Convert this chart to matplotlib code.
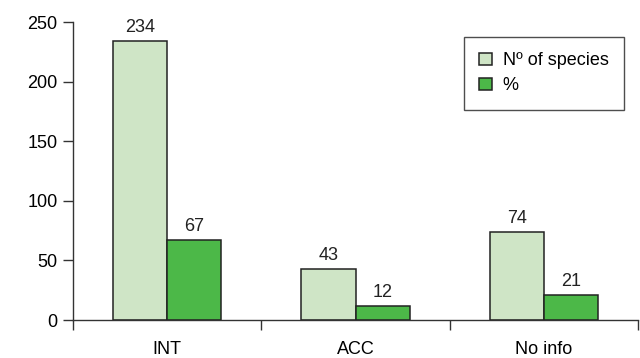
import numpy as np
import matplotlib.pyplot as plt

plt.rcParams['font.family'] = ['Liberation Sans', 'DejaVu Sans']

categories = ['INT', 'ACC', 'No info']
n_species = [234, 43, 74]
percent = [67, 12, 21]

light = '#cfe5c6'
dark = '#4cb848'
edge = '#222222'
fs = 13

fig = plt.figure(figsize=(6.4, 3.58), dpi=100)
ax = fig.add_axes([0.114, 0.106, 0.883, 0.8325])

x = np.arange(len(categories)) + 0.5
w = 0.287
b1 = ax.bar(x - w / 2, n_species, w, color=light, edgecolor=edge, linewidth=1.1,
            label='Nº of species')
b2 = ax.bar(x + w / 2, percent, w, color=dark, edgecolor=edge, linewidth=1.1,
            label='%')

for bars, vals in ((b1, n_species), (b2, percent)):
    for r, v in zip(bars, vals):
        ax.text(r.get_x() + r.get_width() / 2, v + 4, str(v),
                ha='center', va='bottom', fontsize=fs, color='#222222')

ax.set_xlim(0, 3)
ax.set_ylim(0, 250)
ax.set_yticks([0, 50, 100, 150, 200, 250])
ax.set_xticks(x)
ax.set_xticklabels(categories)
ax.set_xticks([0, 1, 2, 3], minor=True)
ax.tick_params(axis='x', which='major', length=0, pad=15, labelsize=fs)
ax.tick_params(axis='x', which='minor', length=7, direction='out', width=1, color='#333333')
ax.tick_params(axis='y', length=7, direction='out', width=1, color='#333333',
               labelsize=fs, pad=4)

for s in ('top', 'right'):
    ax.spines[s].set_visible(False)
for s in ('left', 'bottom'):
    ax.spines[s].set_color('#333333')
    ax.spines[s].set_linewidth(1)

leg = ax.legend(loc='upper right', bbox_to_anchor=(0.975, 0.95), fontsize=fs,
                fancybox=False, edgecolor='#222222', handlelength=0.7,
                handleheight=0.7, handletextpad=0.6, borderpad=0.85,
                labelspacing=0.45, borderaxespad=0)
leg.get_frame().set_linewidth(1)

fig.savefig('out.png', dpi=100)
